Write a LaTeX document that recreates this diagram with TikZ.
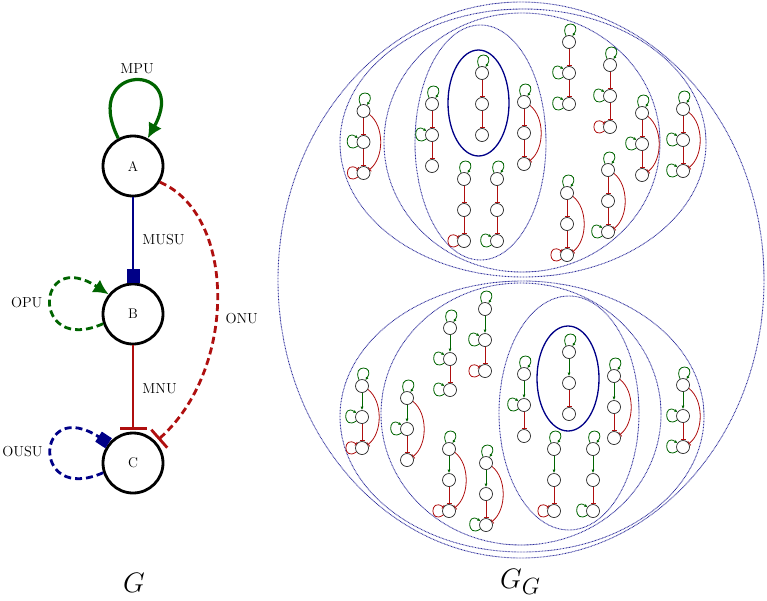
\documentclass[tikz,border=0pt]{standalone}
\usetikzlibrary{arrows.meta}
\definecolor{ggreen}{RGB}{0,100,0}
\definecolor{gred}{RGB}{175,15,15}
\definecolor{gblue}{RGB}{0,0,135}
\definecolor{eblue}{RGB}{45,45,155}
% #1 name, #2 x, #3 y (top node), #4 style of top->mid edge, #5 mid loop (0/1), #6 bottom loop (0 none,1 pos,2 neg), #7 curved top->bottom edge (0/1)
\newcommand{\sgraph}[7]{%
  \node[sgnode] (#1a) at (#2,#3) {};
  \node[sgnode] (#1b) at (#2,#3+31) {};
  \node[sgnode] (#1c) at (#2,#3+62) {};
  \draw[sgloopp] (#1a.115) .. controls +(115:18pt) and +(55:18pt) .. (#1a.60);
  \draw[#4] (#1a) -- (#1b);
  \draw[sgneg] (#1b) -- (#1c);
  \ifnum#5=1\relax \draw[sgloopp] (#1b.215) .. controls +(215:17pt) and +(145:17pt) .. (#1b.145);\fi
  \ifnum#6=1\relax \draw[sgloopp] (#1c.215) .. controls +(215:17pt) and +(145:17pt) .. (#1c.145);\fi
  \ifnum#6=2\relax \draw[sgloopn] (#1c.215) .. controls +(215:17pt) and +(145:17pt) .. (#1c.145);\fi
  \ifnum#7=1\relax \draw[sgneg] (#1a.-30) .. controls +(-38:19pt) and +(38:19pt) .. (#1c.30);\fi
}
\begin{document}
\begin{tikzpicture}[x=1pt,y=-1pt,
  bignode/.style={circle, draw=black, line width=2.8pt, minimum size=60pt, inner sep=0pt, font=\fontsize{14}{16}\selectfont},
  lbl/.style={inner sep=0pt, font=\fontsize{14.5}{17}\selectfont},
  biglbl/.style={inner sep=0pt, font=\fontsize{24.88}{28}\selectfont, scale=1.13},
  mpu/.style={draw=ggreen, line width=3.2pt, -{Latex[length=15pt,width=15pt]}},
  opu/.style={draw=ggreen, line width=2.8pt, dash pattern=on 7pt off 4pt, -{Latex[length=15pt,width=15pt]}},
  ousu/.style={draw=gblue, line width=2.8pt, dash pattern=on 7pt off 4pt, -{Square[length=12pt,width=12pt]}},
  musu/.style={draw=gblue, line width=2.5pt, -{Square[length=14pt,width=13pt]}},
  mnu/.style={draw=gred, line width=2.5pt, -{Bar[width=27pt]}, shorten >=2pt},
  onu/.style={draw=gred, line width=2.8pt, dash pattern=on 7pt off 4pt, -{Bar[width=24pt]}, shorten >=3pt},
  sgnode/.style={circle, draw=black!85, line width=0.7pt, minimum size=13pt, inner sep=0pt},
  sgneg/.style={draw=gred, line width=0.8pt, -{Bar[width=5pt]}},
  sgpos/.style={draw=ggreen, line width=0.8pt, -{Latex[length=3.5pt,width=3pt]}},
  sgloopp/.style={draw=ggreen, line width=0.8pt, -{Latex[length=3pt,width=3pt]}},
  sgloopn/.style={draw=gred, line width=0.8pt, -{Bar[width=4pt]}},
  dell/.style={draw=eblue, line width=0.9pt, dash pattern=on 0.8pt off 0.7pt},
  sell/.style={draw=gblue, line width=1.3pt}
]
\useasboundingbox (0,0) rectangle (767,600);

% ---------- left graph G ----------
\node[bignode] (A) at (133,166) {A};
\node[bignode] (B) at (133,314) {B};
\node[bignode] (C) at (133,463) {C};

\draw[mpu] (A.118) .. controls (80,62) and (190,62) .. (A.62);
\draw[musu] (A) -- (B);
\draw[opu] (B.198) .. controls (30,356) and (35,246) .. (B.141);
\draw[mnu] (B) -- (C);
\draw[ousu] (C.198) .. controls (30,505) and (35,395) .. (C.141);
\draw[onu] (A.-31) .. controls (237,215) and (237,370) .. (C.43);

\node[lbl] (lmpu) at (137,69) {MPU};
\node[lbl] (lmusu) at (163.5,240) {MUSU};
\node[lbl] (lopu) at (26.7,303) {OPU};
\node[lbl] (lonu) at (241.7,319) {ONU};
\node[lbl] (lmnu) at (159.5,389) {MNU};
\node[lbl] (lousu) at (22.5,452) {OUSU};

\node[biglbl, anchor=base] (lG) at (134,592) {$G$};
\node[biglbl, anchor=base west] (lGG) at (500,588) {$G_G$};

% ---------- right graph G_G : enclosing ellipses ----------
\draw[dell] (521,280) ellipse [x radius=243pt, y radius=278pt];
\draw[dell] (523,143) ellipse [x radius=183pt, y radius=134pt];
\draw[dell] (522,142.5) ellipse [x radius=138pt, y radius=129.5pt];
\draw[dell] (480.5,142.5) ellipse [x radius=65.5pt, y radius=117.5pt];
\draw[sell] (478.5,103) ellipse [x radius=30.5pt, y radius=53pt];
\draw[dell] (522,416.5) ellipse [x radius=182pt, y radius=135.5pt];
\draw[dell] (521,414) ellipse [x radius=140pt, y radius=131pt];
\draw[dell] (569,413) ellipse [x radius=70pt, y radius=117pt];
\draw[sell] (568,378.5) ellipse [x radius=31pt, y radius=52.5pt];

% ---------- top half: negative A-B ----------
\sgraph{t1}{363.5}{111}{sgneg}{1}{2}{1}
\sgraph{t2}{432}{104}{sgneg}{1}{0}{0}
\sgraph{t3}{482}{73}{sgneg}{0}{0}{0}
\sgraph{t4}{524}{102}{sgneg}{0}{0}{1}
\sgraph{t5}{464}{179}{sgneg}{0}{2}{0}
\sgraph{t6}{497}{179}{sgneg}{0}{1}{0}
\sgraph{t7}{569}{42}{sgneg}{1}{1}{0}
\sgraph{t8}{610}{65}{sgneg}{1}{2}{0}
\sgraph{t9}{642}{113}{sgneg}{1}{0}{1}
\sgraph{t10}{683}{109}{sgneg}{1}{1}{1}
\sgraph{t11}{567}{193}{sgneg}{0}{2}{1}
\sgraph{t12}{608}{170}{sgneg}{0}{1}{1}

% ---------- bottom half: positive A-B ----------
\sgraph{b1}{362}{386}{sgpos}{1}{2}{1}
\sgraph{b2}{407}{398}{sgpos}{1}{0}{1}
\sgraph{b3}{450}{328}{sgpos}{1}{1}{0}
\sgraph{b4}{485}{309}{sgpos}{1}{2}{0}
\sgraph{b5}{449}{449}{sgpos}{0}{2}{1}
\sgraph{b6}{486}{463}{sgpos}{0}{1}{1}
\sgraph{b7}{524}{374}{sgpos}{1}{0}{0}
\sgraph{b8}{569}{352}{sgpos}{0}{0}{0}
\sgraph{b9}{614}{376}{sgpos}{0}{0}{1}
\sgraph{b10}{554}{449}{sgpos}{0}{2}{0}
\sgraph{b11}{593}{449}{sgpos}{0}{1}{0}
\sgraph{b12}{683}{385}{sgpos}{1}{1}{1}
\end{tikzpicture}
\end{document}
